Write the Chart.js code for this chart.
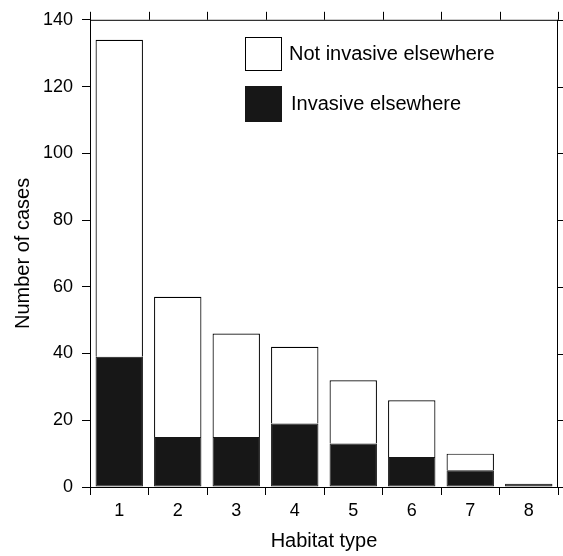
<!DOCTYPE html>
<html>
<head>
<meta charset="utf-8">
<script src="https://cdn.jsdelivr.net/npm/chart.js@4"></script>
<style>
  body { margin: 0; background: #fff; }
  #wrap { width: 563px; height: 556px; }
</style>
</head>
<body>
<div id="wrap"><canvas id="chart"></canvas></div>
<script>
// values
const habitatTypes = ["1", "2", "3", "4", "5", "6", "7", "8"];
const invasiveElsewhere = [39, 15, 15, 19, 13, 9, 5, 1];
const notInvasiveElsewhere = [95, 42, 31, 23, 19, 17, 5, 0];
const yTicks = [0, 20, 40, 60, 80, 100, 120, 140];

const FONT = "'Liberation Sans', Arial, Helvetica, sans-serif";
const BLACK = "#171717";

// frame ticks on top and right, plus the legend inside the plot
const framePlugin = {
    id: "frame",
    afterDraw(chart) {
        let ctx = chart.ctx;
        let x = chart.scales.x, y = chart.scales.y;
        let a = chart.chartArea;
        ctx.save();
        ctx.strokeStyle = "#000";
        ctx.lineWidth = 1;
        ctx.beginPath();
        ctx.moveTo(a.left, a.top + 0.5);
        ctx.lineTo(a.right, a.top + 0.5);
        ctx.moveTo(a.right - 0.5, a.top);
        ctx.lineTo(a.right - 0.5, a.bottom);
        for (let i = 0; i <= habitatTypes.length; i++) {
            let px = Math.round(x.getPixelForValue(i - 0.5)) + 0.5;
            ctx.moveTo(px, a.top);
            ctx.lineTo(px, a.top - 8);
        }
        yTicks.forEach(v => {
            let py = Math.round(y.getPixelForValue(v)) + 0.5;
            ctx.moveTo(a.right, py);
            ctx.lineTo(a.right + 8, py);
        });
        ctx.stroke();

        // legend
        let items = [
            { label: "Not invasive elsewhere", fill: "#fff", y: 37, h: 34, tx: 289 },
            { label: "Invasive elsewhere", fill: BLACK, y: 86, h: 36, tx: 291 }
        ];
        ctx.font = "20px " + FONT;
        ctx.textBaseline = "middle";
        ctx.textAlign = "left";
        items.forEach(it => {
            ctx.fillStyle = it.fill;
            ctx.fillRect(245, it.y, 37, it.h);
            ctx.strokeStyle = it.fill === "#fff" ? "#000" : BLACK;
            ctx.strokeRect(245.5, it.y + 0.5, 36, it.h - 1);
            ctx.fillStyle = "#000";
            ctx.fillText(it.label, it.tx, it.y + it.h / 2);
        });
        ctx.restore();
    }
};

new Chart(document.getElementById("chart"), {
    type: "bar",
    data: {
        labels: habitatTypes,
        datasets: [
            {
                label: "Invasive elsewhere",
                data: invasiveElsewhere,
                backgroundColor: BLACK,
                borderColor: BLACK,
                borderWidth: 1,
                borderSkipped: false
            },
            {
                label: "Not invasive elsewhere",
                data: notInvasiveElsewhere,
                backgroundColor: "#fff",
                borderColor: "#000",
                borderWidth: 1.2,
                borderSkipped: "start"
            }
        ]
    },
    options: {
        responsive: true,
        maintainAspectRatio: false,
        animation: false,
        layout: { padding: { top: 18, right: 5, left: 0, bottom: 0 } },
        plugins: {
            legend: { display: false },
            tooltip: { enabled: false }
        },
        datasets: {
            bar: { categoryPercentage: 1, barPercentage: 0.81 }
        },
        scales: {
            x: {
                stacked: true,
                offset: true,
                grid: {
                    offset: true,
                    drawOnChartArea: false,
                    drawTicks: true,
                    tickLength: 8,
                    color: "#000"
                },
                border: { display: true, color: "#000", width: 1 },
                ticks: { color: "#000", font: { family: FONT, size: 18 }, padding: 5 },
                title: {
                    display: true,
                    text: "Habitat type",
                    color: "#000",
                    font: { family: FONT, size: 20 },
                    padding: { top: 0, bottom: 3 }
                },
                afterFit(scale) { scale.height = 69; }
            },
            y: {
                stacked: true,
                min: 0,
                max: 140,
                grid: {
                    drawOnChartArea: false,
                    drawTicks: true,
                    tickLength: 8,
                    color: "#000"
                },
                border: { display: true, color: "#000", width: 1 },
                afterBuildTicks(scale) {
                    scale.ticks = yTicks.map(v => ({ value: v }));
                },
                ticks: { color: "#000", font: { family: FONT, size: 18 }, padding: 9 },
                title: {
                    display: true,
                    text: "Number of cases",
                    color: "#000",
                    font: { family: FONT, size: 20 },
                    padding: { top: 11, bottom: 0 }
                },
                afterFit(scale) { scale.width = 90; }
            }
        }
    },
    plugins: [framePlugin]
});
</script>
</body>
</html>
